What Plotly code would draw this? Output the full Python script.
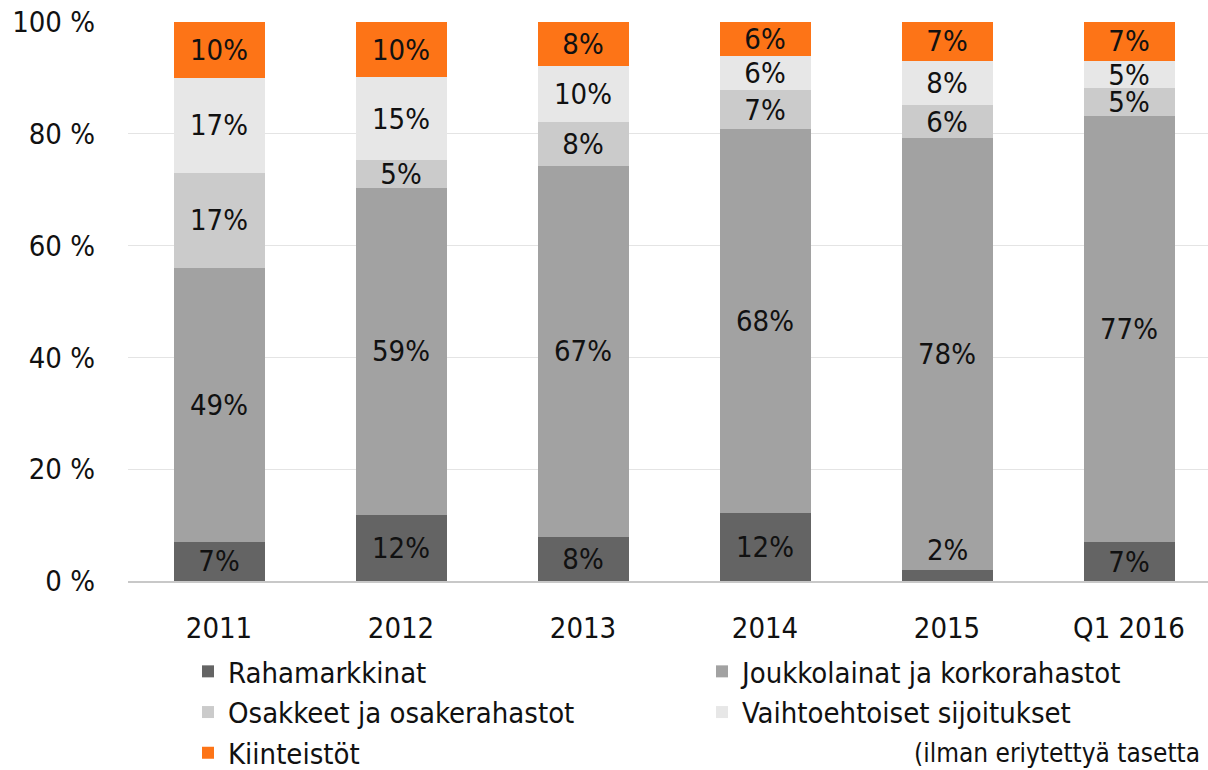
import plotly.graph_objects as go

# Allocation by asset class, share of portfolio (%)
periods = ["2011", "2012", "2013", "2014", "2015", "Q1 2016"]
rahamarkkinat = [7, 12, 8, 12, 2, 7]
joukkolainat = [49, 59, 67, 68, 78, 77]
osakkeet = [17, 5, 8, 7, 6, 5]
vaihtoehtoiset = [17, 15, 10, 6, 8, 5]
kiinteistot = [10, 10, 8, 6, 7, 7]

y_ticks = [0, 20, 40, 60, 80, 100]

series = [
    ("Rahamarkkinat", rahamarkkinat, "#646464"),
    ("Joukkolainat ja korkorahastot", joukkolainat, "#a2a2a2"),
    ("Osakkeet ja osakerahastot", osakkeet, "#cbcbcb"),
    ("Vaihtoehtoiset sijoitukset", vaihtoehtoiset, "#e7e7e7"),
    ("Kiinteistöt", kiinteistot, "#fd7417"),
]

FONT = "DejaVu Sans Condensed, Liberation Sans Narrow, Roboto, sans-serif"
W, H = 1208, 770
L, R, T, B = 128, 0, 22, 189
LABEL_SIZE = 29

fig = go.Figure()
for idx, (name, vals, color) in enumerate(series):
    labels = [f"{v}%" for v in vals]
    # very thin segments get their label placed just above the bar instead
    if idx == 0:
        labels = [lab if v >= 4 else "" for lab, v in zip(labels, vals)]
    fig.add_trace(go.Bar(
        x=periods,
        y=vals,
        name=name,
        marker=dict(color=color, line=dict(width=0)),
        text=labels,
        textposition="inside",
        insidetextanchor="middle",
        textangle=0,
        constraintext="none",
        textfont=dict(family=FONT, size=LABEL_SIZE, color="#111111"),
    ))

# labels for thin bottom segments, sitting just above them
for i, v in enumerate(rahamarkkinat):
    if v < 4:
        fig.add_annotation(
            x=i, y=v, xref="x", yref="y", text=f"{v}%", showarrow=False,
            yanchor="bottom", yshift=1,
            font=dict(family=FONT, size=LABEL_SIZE, color="#111111"),
        )

fig.update_layout(
    width=W,
    height=H,
    barmode="stack",
    barnorm="percent",
    bargap=0.5,
    margin=dict(l=L, r=R, t=T, b=B),
    plot_bgcolor="white",
    paper_bgcolor="white",
    font=dict(family=FONT, size=LABEL_SIZE, color="#111111"),
    uniformtext=dict(minsize=LABEL_SIZE, mode="show"),
    legend=dict(
        orientation="h",
        xref="container",
        yref="container",
        x=188 / W,
        xanchor="left",
        y=1 - 646 / H,
        yanchor="top",
        entrywidth=469,
        entrywidthmode="pixels",
        traceorder="normal",
        font=dict(family=FONT, size=LABEL_SIZE, color="#111111"),
        itemclick=False,
    ),
    showlegend=True,
)

fig.update_xaxes(
    type="category",
    range=[-0.5, -0.5 + (W - L - R) / 182],
    automargin=False,
    showgrid=False,
    showline=True,
    linecolor="#c8c8c8",
    linewidth=1.5,
    ticks="",
    ticklabelstandoff=20,
    tickfont=dict(family=FONT, size=LABEL_SIZE, color="#111111"),
)
fig.update_yaxes(
    range=[0, 100],
    automargin=False,
    tickvals=y_ticks,
    ticktext=[f"{v} %" for v in y_ticks],
    showgrid=True,
    gridcolor="#e4e4e4",
    gridwidth=1,
    zeroline=False,
    ticks="",
    ticklabelstandoff=32,
    tickfont=dict(family=FONT, size=LABEL_SIZE, color="#111111"),
)

fig.add_annotation(
    text="(ilman eriytettyä tasetta",
    xref="paper", yref="paper",
    x=(912 - L) / (W - L - R), y=-(753 - (H - B)) / (H - T - B),
    xanchor="left", yanchor="middle",
    showarrow=False,
    font=dict(family=FONT, size=26, color="#111111"),
)

fig.write_html("out.html")
